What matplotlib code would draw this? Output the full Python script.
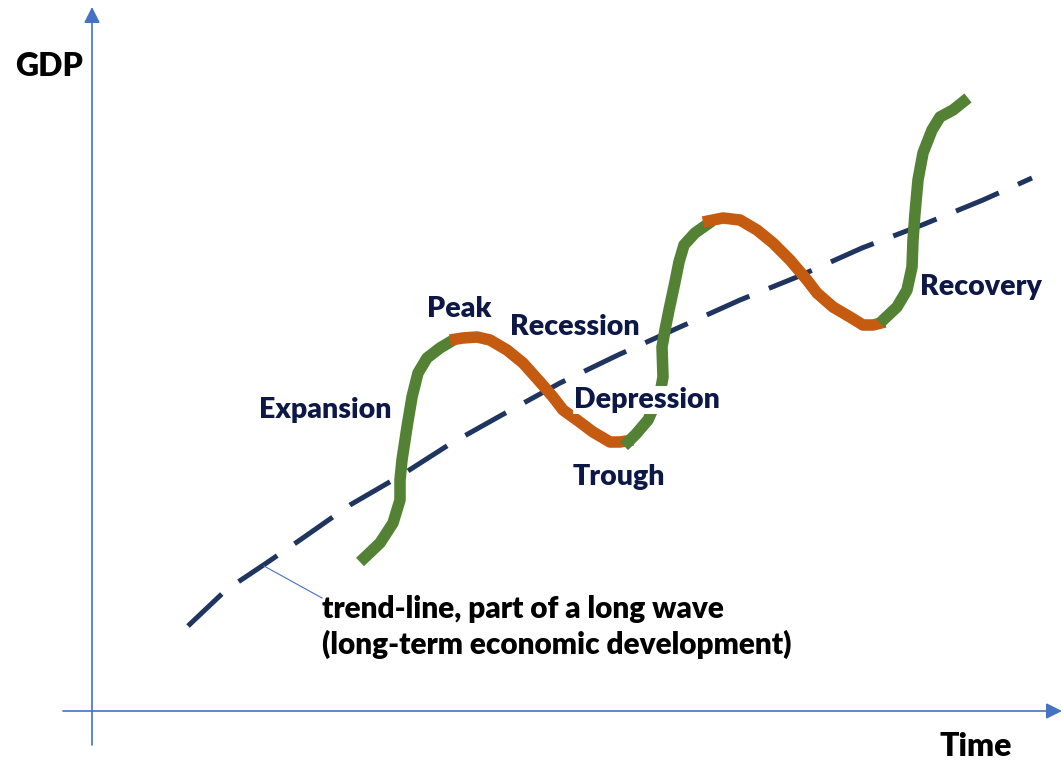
import matplotlib
matplotlib.use("Agg")
import matplotlib.pyplot as plt
from matplotlib.patches import FancyArrowPatch

# business-cycle diagram, coordinates in canvas pixels (y grows downward)
trend_x = [188, 226, 265, 300, 350, 400, 450, 500, 560, 618, 680, 740, 797, 862, 922, 983, 1032]
trend_y = [626, 590, 564, 540, 505, 476, 444, 416, 383, 355, 327, 300, 277, 248, 225, 200, 178]

# alternating phases: (phase, xs, ys)
phases = [
    ("up", [360, 380, 393, 400, 400, 402, 407, 412, 418, 427, 440, 455],
           [562, 543, 523, 500, 480, 460, 427, 397, 373, 358, 348, 339]),
    ("down", [450, 463, 477, 490, 507, 523, 540, 553, 563, 577, 593, 610, 620, 633],
             [340, 338, 337, 340, 350, 363, 382, 397, 410, 420, 432, 442, 442, 440]),
    ("up", [624, 636, 648, 656, 661, 663, 662, 665, 669, 675, 679, 684, 695, 712],
           [446, 434, 420, 402, 388, 377, 347, 330, 310, 282, 262, 245, 233, 221]),
    ("down", [703, 723, 740, 757, 773, 790, 807, 817, 833, 850, 863, 873, 885],
             [222, 218, 220, 230, 243, 260, 280, 293, 307, 317, 325, 325, 322]),
    ("up", [880, 897, 907, 912, 913, 915, 918, 923, 932, 940, 953, 968],
           [323, 307, 290, 267, 240, 213, 180, 153, 130, 117, 110, 98]),
]

labels = ["Expansion", "Peak", "Recession", "Depression", "Trough", "Recovery"]
label_x = [259, 427, 510, 574, 573, 920]
label_y = [410, 309, 327, 400, 477, 287]

trend_note = "trend-line, part of a long wave\n(long-term economic development)"

GREEN = "#548235"
ORANGE = "#C55A11"
NAVY = "#1F3560"
TEXT = "#0D1847"
AXIS = "#4472C4"

plt.rcParams["font.family"] = ["Lato", "DejaVu Sans"]

fig = plt.figure(figsize=(10.63, 7.6), dpi=100)
ax = fig.add_axes([0, 0, 1, 1])
ax.set_xlim(0, 1063)
ax.set_ylim(760, 0)
ax.axis("off")

# axes with arrowheads
for a, b in [((92, 745), (92, 7)), ((63, 711), (1062, 711))]:
    ax.add_patch(FancyArrowPatch(a, b, arrowstyle="-|>", mutation_scale=24,
                                 color=AXIS, lw=1.2, shrinkA=0, shrinkB=0))

# long-wave trend
tl, = ax.plot(trend_x, trend_y, color=NAVY, lw=3.6, solid_capstyle="butt",
              dash_capstyle="butt", zorder=2)
tl.set_dashes((9.3, 4.2))

for kind, xs, ys in phases:
    ax.plot(xs, ys, color=GREEN if kind == "up" else ORANGE, lw=8.3,
            solid_capstyle="butt", solid_joinstyle="round", zorder=3)

# leader from the trend to its note
ax.plot([264, 322], [566, 598], color=AXIS, lw=0.8, zorder=2)

for s, x, y in zip(labels, label_x, label_y):
    box = dict(facecolor="white", edgecolor="none", pad=1) if s == "Depression" else None
    ax.text(x, y, s, fontsize=20.5, fontweight=800, color=TEXT,
            ha="left", va="center", bbox=box, zorder=5)

ax.text(322, 627, trend_note, fontsize=21.4, fontweight=800, color="black",
        ha="left", va="center", linespacing=1.3)
ax.text(15, 66, "GDP", fontsize=23, fontweight=800, color="black", ha="left", va="center")
ax.text(940, 747, "Time", fontsize=23, fontweight=800, color="black", ha="left", va="center")

fig.savefig("out.png", dpi=100)
